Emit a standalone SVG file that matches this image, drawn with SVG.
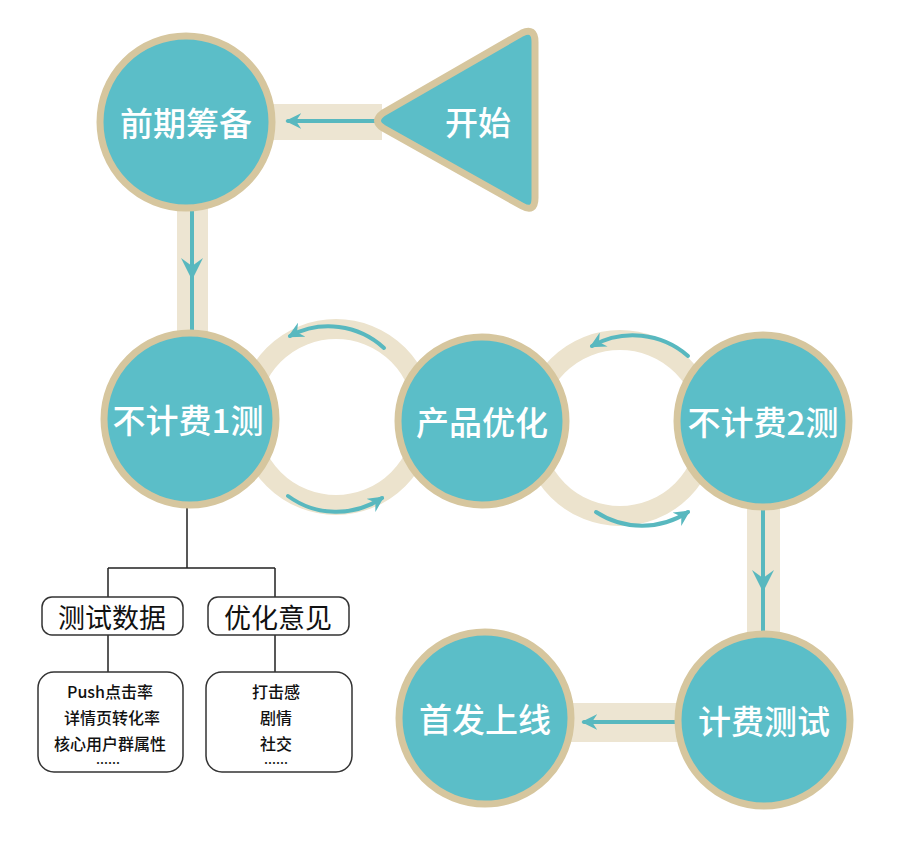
<svg xmlns="http://www.w3.org/2000/svg" width="900" height="841" viewBox="0 0 900 841">
<defs>
<style>
.band{fill:#ede5d2}
.ring{fill:none;stroke:#ece3cd;stroke-width:20}
.node{fill:#5bbec8;stroke:#d6c69e;stroke-width:7}
.arr{fill:none;stroke:#58b8bf;stroke-width:4;stroke-linecap:round}
.ah{fill:#58b8bf}
.lbl{fill:#ffffff;font-family:"Noto Sans CJK SC","Noto Sans",sans-serif;font-size:33px;font-weight:500;text-anchor:middle;dominant-baseline:central}
.tree{fill:none;stroke:#222;stroke-width:1.5}
.box{fill:#fff;stroke:#333;stroke-width:1.5}
.bt{fill:#111;font-family:"Noto Sans CJK SC","Noto Sans",sans-serif;font-size:27px;text-anchor:middle;dominant-baseline:central}
.st{fill:#111;font-family:"Noto Sans CJK SC","Noto Sans",sans-serif;font-size:16px;font-weight:500;text-anchor:middle;dominant-baseline:central}
.dots{fill:#111;font-family:"Noto Sans CJK SC","Noto Sans",sans-serif;font-size:12px;font-weight:700;text-anchor:middle;dominant-baseline:central}
</style>
<marker id="head" viewBox="0 0 12 12" refX="10" refY="6" markerWidth="4" markerHeight="4" orient="auto" markerUnits="strokeWidth">
<path d="M0,0 L12,6 L0,12 L4,6 z" fill="#58b8bf"/>
</marker>
</defs>
<rect width="900" height="841" fill="#ffffff"/>
<g id="connectors">
<rect class="band" x="270" y="104" width="112" height="36"/>
<rect class="band" x="177" y="205" width="31" height="135"/>
<rect class="band" x="747" y="503" width="33" height="140"/>
<rect class="band" x="568" y="703" width="112" height="39"/>
<circle class="ring" cx="336" cy="417" r="88"/>
<circle class="ring" cx="620" cy="428" r="88"/>
<line class="arr" x1="380" y1="121" x2="288" y2="121" marker-end="url(#head)"/>
<line class="arr" x1="192" y1="210" x2="192" y2="338"/>
<path class="ah" d="M181,258 L192,280 L203,258 L192,266 z"/>
<line class="arr" x1="763" y1="508" x2="763" y2="638"/>
<path class="ah" d="M752,570 L763,592 L774,570 L763,578 z"/>
<line class="arr" x1="678" y1="722" x2="584" y2="722" marker-end="url(#head)"/>
<path class="arr" d="M384,348 A82,82 0 0 0 290,336" marker-end="url(#head)"/>
<path class="arr" d="M288,496 A82,82 0 0 0 382,498" marker-end="url(#head)"/>
<path class="arr" d="M688,356 A84,84 0 0 0 592,346" marker-end="url(#head)"/>
<path class="arr" d="M596,512 A84,84 0 0 0 688,512" marker-end="url(#head)"/>
<path class="tree" d="M187,506 V568 M108,568 H275 M108,568 V597 M275,568 V597 M108,635 V672 M275,635 V672"/>
</g>
<g id="n-start">
<path class="node" d="M383,113 L522,33 Q535,27 535,42 V198 Q535,213 522,206 L383,128 Q372,121 383,113 z"/>
<text class="lbl" x="478" y="121">开始</text>
</g>
<g id="n-prep">
<circle class="node" cx="186" cy="122" r="86"/>
<text class="lbl" x="186" y="122">前期筹备</text>
</g>
<g id="n-test1">
<circle class="node" cx="190" cy="419" r="86"/>
<text class="lbl" x="188" y="419">不计费1测</text>
</g>
<g id="n-opt">
<circle class="node" cx="482" cy="421" r="84"/>
<text class="lbl" x="482" y="421">产品优化</text>
</g>
<g id="n-test2">
<circle class="node" cx="763" cy="421" r="86"/>
<text class="lbl" x="763" y="421">不计费2测</text>
</g>
<g id="n-paid">
<circle class="node" cx="764" cy="720" r="86"/>
<text class="lbl" x="764" y="720">计费测试</text>
</g>
<g id="n-launch">
<circle class="node" cx="485" cy="718" r="86"/>
<text class="lbl" x="485" y="718">首发上线</text>
</g>
<g id="n-data">
<rect class="box" x="42" y="597" width="141" height="38" rx="10"/>
<text class="bt" x="112" y="616">测试数据</text>
</g>
<g id="n-advice">
<rect class="box" x="208" y="597" width="141" height="38" rx="10"/>
<text class="bt" x="278" y="616">优化意见</text>
</g>
<g id="n-data-list">
<rect class="box" x="38" y="672" width="145" height="100" rx="16"/>
<text class="st" x="110" y="691">Push点击率</text>
<text class="st" x="112" y="717">详情页转化率</text>
<text class="st" x="110" y="743">核心用户群属性</text>
<text class="dots" x="108" y="762">……</text>
</g>
<g id="n-advice-list">
<rect class="box" x="206" y="672" width="146" height="100" rx="16"/>
<text class="st" x="276" y="691">打击感</text>
<text class="st" x="276" y="717">剧情</text>
<text class="st" x="276" y="743">社交</text>
<text class="dots" x="276" y="762">……</text>
</g>
</svg>
